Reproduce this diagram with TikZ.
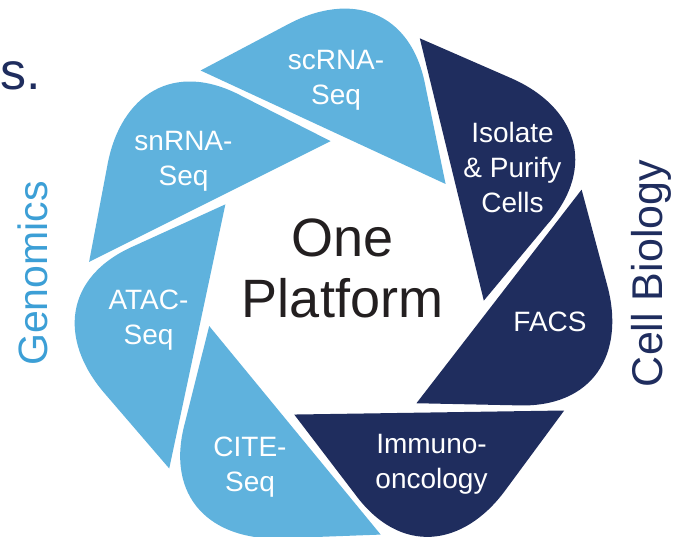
\documentclass[tikz,border=0pt]{standalone}
\usepackage{fontspec}
\setmainfont{Liberation Sans}
\definecolor{lightb}{RGB}{95,178,221}
\definecolor{darkb}{RGB}{31,45,94}
\definecolor{genb}{RGB}{60,159,214}
\definecolor{txtblack}{RGB}{35,31,32}
\begin{document}
\begin{tikzpicture}[x=1pt,y=1pt,
  lbl/.style={text=white, font=\fontsize{28}{35}\selectfont, inner sep=0pt, anchor=base},
  sidelbl/.style={rotate=90, anchor=base, inner sep=0pt}]
\useasboundingbox (0,0) rectangle (684,537);
\fill[white] (0,0) rectangle (684,537);
\foreach \k/\c in {0/lightb,1/darkb,2/darkb,3/darkb,4/lightb,5/lightb,6/lightb}{
  \begin{scope}[shift={(343.6,255)}, rotate=-51.4286*\k]
    \fill[\c] (102,98) -- (-143,211.5) -- (-55,258)
      .. controls (6.9,290.7) and (68,272) .. (82,195) -- cycle;
  \end{scope}
}
\node[lbl] (scrna) at (336,467) {\begin{tabular}[t]{@{}c@{}}scRNA-\\Seq\end{tabular}};
\node[lbl] (snrna) at (183.5,386.3) {\begin{tabular}[t]{@{}c@{}}snRNA-\\Seq\end{tabular}};
\node[lbl] (isolate) at (512.5,394.3) {\begin{tabular}[t]{@{}c@{}}Isolate\\\& Purify\\Cells\end{tabular}};
\node[lbl] (facs) at (550,205.3) {FACS};
\node[lbl] (immuno) at (431.5,83) {\begin{tabular}[t]{@{}c@{}}Immuno-\\oncology\end{tabular}};
\node[lbl] (cite) at (250,80.3) {\begin{tabular}[t]{@{}c@{}}CITE-\\Seq\end{tabular}};
\node[lbl] (atac) at (148.5,227) {\begin{tabular}[t]{@{}c@{}}ATAC-\\Seq\end{tabular}};
\node[anchor=base, inner sep=0pt, text=txtblack, font=\fontsize{54}{61}\selectfont] (platform) at (342.5,280)
  {\begin{tabular}[t]{@{}c@{}}One\\Platform\end{tabular}};
\node[sidelbl, text=genb, font=\fontsize{41}{49}\selectfont] (genomics) at (47,263.5) {Genomics};
\node[sidelbl, text=darkb, font=\fontsize{43}{51}\selectfont] (cellbio) at (662,263.5) {Cell Biology};
\node[anchor=base west, inner sep=0pt, text=darkb, font=\fontsize{52}{60}\selectfont] (sdot) at (0,447.5) {s.};
\end{tikzpicture}
\end{document}
